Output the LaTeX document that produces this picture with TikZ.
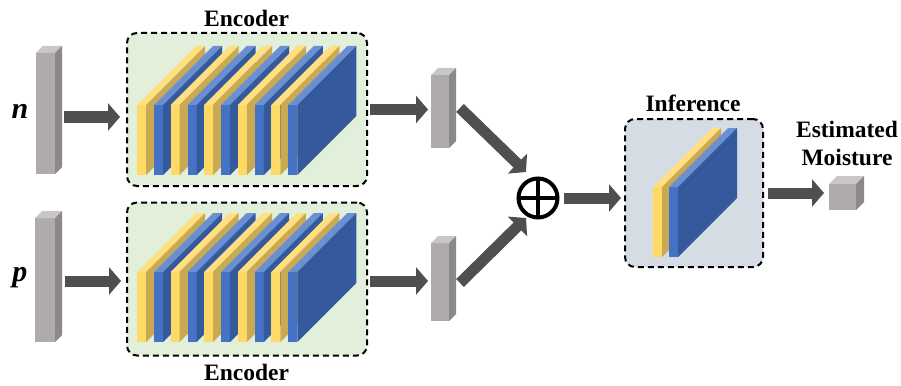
\documentclass[tikz,border=0pt]{standalone}
\usepackage{fontspec}
\setmainfont{Liberation Serif}
\usetikzlibrary{arrows.meta,calc}

\definecolor{arrowgray}{HTML}{4F4F4F}
\definecolor{encgreen}{HTML}{E2EFDA}
\definecolor{infgray}{HTML}{D6DCE4}
\definecolor{yfront}{HTML}{FFD966}
\definecolor{ytop}{HTML}{FFDF80}
\definecolor{yside}{HTML}{C9AA52}
\definecolor{bfront}{HTML}{4472C4}
\definecolor{btop}{HTML}{6A8FD3}
\definecolor{bside}{HTML}{345A9D}
\definecolor{gfront}{HTML}{AFABAB}
\definecolor{gtop}{HTML}{C9C6C6}
\definecolor{gside}{HTML}{8C8888}

% one feature-map slab: #1 left x of front face, #2 bottom y, #3 colour family
\newcommand{\slab}[3]{%
  \fill[#3front] (#1,#2) rectangle ++(9,-70);
  \fill[#3top] (#1,#2-70) -- ++(9,0) -- ++(59,-59) -- ++(-9,0) -- cycle;
  \fill[#3side] (#1+9,#2) -- ++(0,-70) -- ++(59,-59) -- ++(0,70) -- cycle;
}
% top and side faces of a gray prism whose front face is node #1, depth #2
\newcommand{\prismfaces}[2]{%
  \fill[gtop] (#1.north west) -- ++(#2,-#2) -- ($(#1.north east)+(#2,-#2)$) -- (#1.north east) -- cycle;
  \fill[gside] (#1.north east) -- ++(#2,-#2) -- ($(#1.south east)+(#2,-#2)$) -- (#1.south east) -- cycle;
}

\begin{document}
\begin{tikzpicture}[x=1pt,y=-1pt,
  lbl/.style={font=\fontsize{23.5}{28}\selectfont\bfseries, inner sep=0pt, anchor=base},
  var/.style={font=\fontsize{30}{30}\selectfont\bfseries\itshape, inner sep=0pt, anchor=base},
  groupbox/.style={rectangle, rounded corners=10pt, draw=black, line width=2pt,
    dash pattern=on 6pt off 4pt, inner sep=0pt, outer sep=0pt},
  encbox/.style={groupbox, fill=encgreen, minimum width=240pt, minimum height=153pt},
  infbox/.style={groupbox, fill=infgray, minimum width=138pt, minimum height=148pt},
  barfront/.style={rectangle, fill=gfront, inner sep=0pt, outer sep=0pt},
  bigarrow/.style={draw=arrowgray, line width=11pt, -{Triangle[length=12pt,width=27pt]}},
]
\useasboundingbox (0,0) rectangle (901,385);
\fill[white] (0,0) rectangle (901,385);

% encoder groups
\node[encbox] (enc1) at (247,109.5) {};
\node[encbox] (enc2) at (247,279) {};
\foreach \i in {0,...,4} {
  \pgfmathsetmacro\xa{137+33.6*\i}
  \slab{\xa}{175}{y}
  \slab{\xa+17}{175}{b}
  \slab{\xa}{342}{y}
  \slab{\xa+17}{342}{b}
}
\node[lbl] at (246.5,27) {Encoder};
\node[lbl] at (246.5,380) {Encoder};

% inference group
\node[infbox] (inf) at (694,193) {};
\slab{653}{257}{y}
\slab{669}{257}{b}
\node[lbl] at (693,111) {Inference};

% input vectors
\node[barfront, minimum width=19pt, minimum height=121pt] (nbar) at (45.5,113.5) {};
\prismfaces{nbar}{7}
\node[barfront, minimum width=20pt, minimum height=124pt] (pbar) at (45,280) {};
\prismfaces{pbar}{7}
\node[var] at (20,118) {n};
\node[var] at (20,281) {p};

% encoded features
\node[barfront, minimum width=18pt, minimum height=73pt] (mb1) at (440,111.5) {};
\prismfaces{mb1}{7}
\node[barfront, minimum width=18pt, minimum height=78pt] (mb2) at (440,282) {};
\prismfaces{mb2}{7}

% fusion
\node[circle, draw=black, line width=4pt, minimum size=39pt, inner sep=0pt, outer sep=0pt] (oplus) at (538,198) {};
\draw[line width=4pt] (oplus.north) -- (oplus.south) (oplus.west) -- (oplus.east);

% output
\node[barfront, minimum width=27pt, minimum height=26pt] (cube) at (842.5,197) {};
\prismfaces{cube}{8}
\node[lbl] at (847,137) {Estimated};
\node[lbl] at (847,165) {Moisture};

% connectors
\draw[bigarrow] ($(nbar.east)+(9,3.5)$) -- ($(enc1.west |- nbar.east)+(-7,3.5)$);
\draw[bigarrow] ($(pbar.east)+(10,1)$) -- ($(enc2.west |- pbar.east)+(-6,1)$);
\draw[bigarrow] ($(enc1.east)+(3,0)$) -- ($(mb1.west |- enc1.east)+(-3,0)$);
\draw[bigarrow] ($(enc2.east |- mb2.west)+(3,-1)$) -- ($(mb2.west)+(-3,-1)$);
\draw[bigarrow] ($(mb1.east)+(11,-3.5)$) -- ($(oplus)+(-12,-26)$);
\draw[bigarrow] ($(mb2.east)+(11,1)$) -- ($(oplus)+(-12,20)$);
\draw[bigarrow] ($(oplus.east)+(6.5,0)$) -- ($(inf.west |- oplus)+(-4,0)$);
\draw[bigarrow] ($(inf.east)+(5,0)$) -- ($(cube.west |- inf.east)+(-5,0)$);
\end{tikzpicture}
\end{document}
